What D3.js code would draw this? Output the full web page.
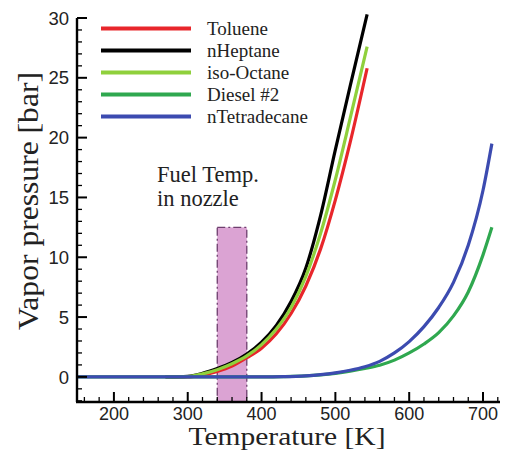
<!DOCTYPE html>
<html>
<head>
<meta charset="utf-8">
<script src="https://cdn.jsdelivr.net/npm/d3@7/dist/d3.min.js"></script>
<style>
  html, body { margin: 0; padding: 0; background: #fff; }
  svg { display: block; }
</style>
</head>
<body>
<svg id="chart" width="506" height="452"></svg>
<script>
// ---- data ----
const lightTemps = [270, 300, 320, 340, 360, 380, 400, 420, 440, 460, 480, 500, 520, 543];
const toluene    = [0, 0, 0.15, 0.45, 0.9, 1.6, 2.4, 3.6, 5.3, 7.6, 10.7, 14.8, 19.6, 25.8];
const nHeptane   = [0, 0.05, 0.3, 0.7, 1.2, 1.9, 2.9, 4.3, 6.3, 9.1, 13.5, 19.0, 24.3, 30.3];
const isoOctane  = [0, 0.03, 0.25, 0.6, 1.1, 1.75, 2.7, 4.0, 5.8, 8.4, 12.0, 16.5, 21.6, 27.6];

const heavyTemps   = [150, 400, 430, 460, 480, 500, 520, 540, 560, 580, 600, 620, 640, 660, 680, 700, 712];
const diesel2      = [0, 0, 0.02, 0.08, 0.17, 0.3, 0.48, 0.7, 0.97, 1.4, 2.0, 2.75, 3.7, 5.1, 7.1, 10.2, 12.5];
const nTetradecane = [0, 0, 0.02, 0.09, 0.19, 0.34, 0.55, 0.85, 1.3, 2.0, 2.95, 4.2, 5.8, 7.9, 11.0, 15.6, 19.5];

const seriesNames  = ["Toluene", "nHeptane", "iso-Octane", "Diesel #2", "nTetradecane"];
const seriesColors = ["#e8262b", "#000000", "#8fd03c", "#2fa84f", "#3c4bb0"];

const fuelTempRange = [340, 380];
const fuelTempTop = 12.5;

const xTicks = [200, 300, 400, 500, 600, 700];
const yTicks = [0, 5, 10, 15, 20, 25, 30];

// ---- layout ----
const svg = d3.select("#chart");
const x = d3.scaleLinear().domain([150, 723]).range([77, 500]);
const y = d3.scaleLinear().domain([-2.1, 30]).range([402, 18]);

const series = [
  { name: seriesNames[0], color: seriesColors[0], t: lightTemps, v: toluene },
  { name: seriesNames[1], color: seriesColors[1], t: lightTemps, v: nHeptane },
  { name: seriesNames[2], color: seriesColors[2], t: lightTemps, v: isoOctane },
  { name: seriesNames[3], color: seriesColors[3], t: heavyTemps, v: diesel2 },
  { name: seriesNames[4], color: seriesColors[4], t: heavyTemps, v: nTetradecane }
];

// fuel temp box
svg.append("rect")
  .attr("x", x(fuelTempRange[0]))
  .attr("y", y(fuelTempTop))
  .attr("width", x(fuelTempRange[1]) - x(fuelTempRange[0]))
  .attr("height", y(y.domain()[0]) - y(fuelTempTop))
  .attr("fill", "#dba3d3")
  .attr("stroke", "#6e3f6e")
  .attr("stroke-width", 1.3)
  .attr("stroke-dasharray", "8,3,2,3");

// curves
const line = d3.line()
  .x(d => x(d[0]))
  .y(d => y(d[1]))
  .curve(d3.curveMonotoneX);

series.forEach(s => {
  svg.append("path")
    .datum(s.t.map((t, k) => [t, s.v[k]]))
    .attr("d", line)
    .attr("fill", "none")
    .attr("stroke", s.color)
    .attr("stroke-width", 3.2)
    .attr("stroke-linejoin", "round");
});

// axes
const tickFont = "'Liberation Sans', Arial, sans-serif";

// y axis
const yAxis = svg.append("g").attr("transform", `translate(${x.range()[0]},0)`);
yAxis.append("line")
  .attr("x1", 0).attr("x2", 0)
  .attr("y1", y.range()[1]).attr("y2", y.range()[0])
  .attr("stroke", "#000").attr("stroke-width", 2.4);
const yMinor = d3.range(-2, 31, 1);
yAxis.selectAll("line.minor").data(yMinor).join("line")
  .attr("class", "minor")
  .attr("x1", 0).attr("x2", d => (d % 5 === 0 ? 10 : 5))
  .attr("y1", d => y(d)).attr("y2", d => y(d))
  .attr("stroke", "#000").attr("stroke-width", d => (d % 5 === 0 ? 2 : 1.3));
yAxis.selectAll("text").data(yTicks).join("text")
  .attr("x", -8)
  .attr("y", d => y(d))
  .attr("dy", "0.36em")
  .attr("text-anchor", "end")
  .attr("font-family", tickFont)
  .attr("font-size", 18.5)
  .attr("fill", "#222")
  .text(d => d);

// x axis
const xAxis = svg.append("g").attr("transform", `translate(0,${y.range()[0]})`);
xAxis.append("line")
  .attr("x1", x.range()[0] - 1).attr("x2", x.range()[1])
  .attr("y1", 0).attr("y2", 0)
  .attr("stroke", "#000").attr("stroke-width", 2.4);
const xMinor = d3.range(160, 721, 20);
xAxis.selectAll("line.minor").data(xMinor).join("line")
  .attr("class", "minor")
  .attr("x1", d => x(d)).attr("x2", d => x(d))
  .attr("y1", 0).attr("y2", d => (d % 100 === 0 ? -10 : -5))
  .attr("stroke", "#000").attr("stroke-width", d => (d % 100 === 0 ? 2 : 1.3));
xAxis.selectAll("text").data(xTicks).join("text")
  .attr("x", d => x(d))
  .attr("y", 18)
  .attr("text-anchor", "middle")
  .attr("font-family", tickFont)
  .attr("font-size", 18)
  .attr("fill", "#222")
  .text(d => d);

// axis titles
const serif = "'Liberation Serif', 'Times New Roman', serif";
svg.append("text")
  .attr("x", 287).attr("y", 445)
  .attr("text-anchor", "middle")
  .attr("font-family", serif)
  .attr("font-size", 25)
  .attr("fill", "#222")
  .attr("textLength", 197)
  .attr("lengthAdjust", "spacingAndGlyphs")
  .text("Temperature [K]");

svg.append("text")
  .attr("transform", "translate(38,201) rotate(-90)")
  .attr("text-anchor", "middle")
  .attr("font-family", serif)
  .attr("font-size", 29)
  .attr("fill", "#222")
  .attr("textLength", 258)
  .attr("lengthAdjust", "spacingAndGlyphs")
  .text("Vapor pressure [bar]");

// annotation
const ann = svg.append("text")
  .attr("font-family", serif)
  .attr("font-size", 22.5)
  .attr("fill", "#222");
ann.append("tspan").attr("x", 157).attr("y", 182).text("Fuel Temp.");
ann.append("tspan").attr("x", 157).attr("y", 206).text("in nozzle");

// legend
const legend = svg.append("g");
series.forEach((s, i) => {
  const ly = 28.5 + i * 22;
  legend.append("line")
    .attr("x1", 101).attr("x2", 191)
    .attr("y1", ly).attr("y2", ly)
    .attr("stroke", s.color).attr("stroke-width", 4);
  legend.append("text")
    .attr("x", 207).attr("y", ly + 6.5)
    .attr("font-family", serif)
    .attr("font-size", 19)
    .attr("fill", "#222")
    .text(s.name);
});
</script>
</body>
</html>
